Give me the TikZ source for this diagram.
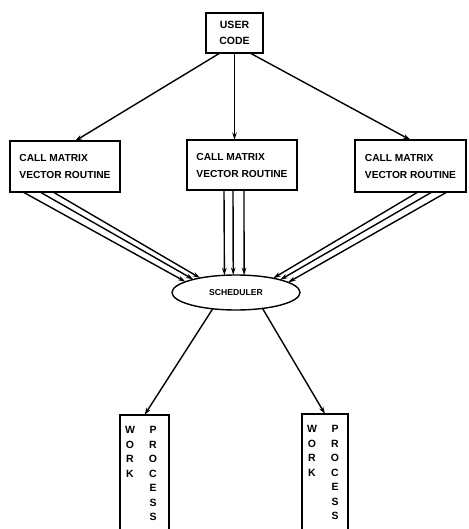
\documentclass[tikz,border=0pt]{standalone}
\usepackage{fontspec}
\setmainfont{Liberation Sans}
\usetikzlibrary{arrows.meta,calc,shapes.geometric}
\begin{document}
\begin{tikzpicture}[x=1pt,y=-1pt,
  line width=1.4pt,
  arr/.style={-{Stealth[length=7.5pt,width=4.5pt]}},
  box/.style={draw, inner sep=0pt, outer sep=0pt},
  vbox/.style={box, align=left, font=\fontsize{10.2}{17}\selectfont\bfseries},
  letters/.style={inner sep=0pt, align=center, font=\fontsize{10.5}{14.5}\selectfont\bfseries}
]
\path[use as bounding box, clip] (0,0) rectangle (468,529);
\fill[white] (0,0) rectangle (468,529);
% top
\node[box, minimum width=57pt, minimum height=40pt, align=center,
      font=\fontsize{10.5}{16}\selectfont\bfseries] (U) at (234.5,33) {USER\\CODE};
% routine boxes
\node[vbox, minimum width=110pt, minimum height=51pt] (L) at (65,166.5) {CALL MATRIX\\VECTOR ROUTINE};
\node[vbox, minimum width=110pt, minimum height=50pt] (M) at (242,165) {CALL MATRIX\\VECTOR ROUTINE};
\node[vbox, minimum width=111pt, minimum height=52pt] (R) at (410.5,166) {CALL MATRIX\\VECTOR ROUTINE};
% scheduler
\node[draw, ellipse, minimum width=128pt, minimum height=35pt, inner sep=0pt, outer sep=0pt,
      font=\fontsize{8.6}{10}\selectfont\bfseries] (S) at (236,292.5) {SCHEDULER};
% work processes
\node[box, minimum width=49pt, minimum height=130pt, anchor=north] (W1) at (144.5,415) {};
\node[box, minimum width=46pt, minimum height=130pt, anchor=north] (W2) at (325,414) {};
\node[letters, anchor=north] (W1a) at (130,426) {W\\O\\R\\K};
\node[letters, anchor=north] (W1b) at (153,426) {P\\R\\O\\C\\E\\S\\S};
\node[letters, anchor=north] (W2a) at (312,425) {W\\O\\R\\K};
\node[letters, anchor=north] (W2b) at (335,425) {P\\R\\O\\C\\E\\S\\S};
% user code to routines
\draw[arr] ($(U.south)+(-14.5,0)$) -- ($(L.north)+(10,0)$);
\draw[arr] (U.south) -- (U.south |- M.north);
\draw[arr] ($(U.south)+(15.5,0)$) -- (R.north);
% routines to scheduler
\foreach \o/\a in {13/168.9, 30/163.9, 43/158.1}
  \draw[arr] ($(L.south west)+(\o,0)$) -- (S.\a);
\foreach \o/\a in {37/124.9, 46/99.7, 57/65.3}
  \draw[arr] ($(M.south west)+(\o,0)$) -- (S.\a);
\foreach \o/\a in {63/21.9, 77/16.1, 92/11.1}
  \draw[arr] ($(R.south west)+(\o,0)$) -- (S.\a);
% scheduler to work processes
\draw[arr] (S.215.3) -- (W1.north);
\draw[arr] (S.329.5) -- (W2.north);
\end{tikzpicture}
\end{document}
